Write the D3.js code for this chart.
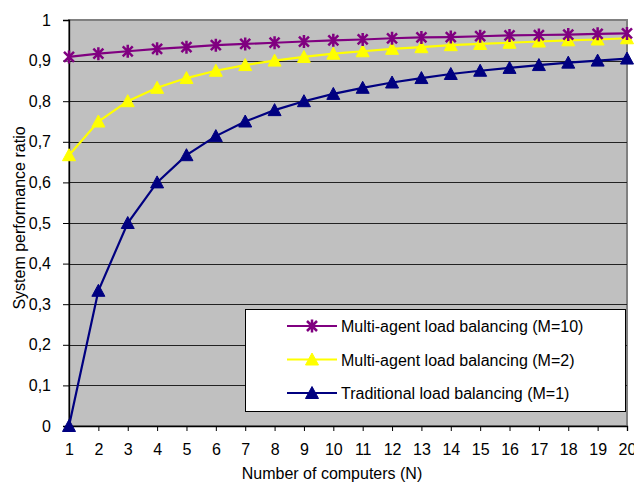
<!DOCTYPE html>
<html>
<head>
<meta charset="utf-8">
<script src="https://cdn.jsdelivr.net/npm/d3@7"></script>
<style>
  body { margin: 0; background: #fff; }
  text { font-family: "Liberation Sans", Arial, sans-serif; fill: #000; }
</style>
</head>
<body>
<svg width="634" height="484"></svg>
<script>
const width = 634
const height = 484

// number of computers (N)
const computers = [1,2,3,4,5,6,7,8,9,10,11,12,13,14,15,16,17,18,19,20]
// M = 10
const multiM10 = [0.909,0.917,0.923,0.929,0.933,0.938,0.941,0.944,0.947,0.950,0.952,0.955,0.957,0.958,0.960,0.962,0.963,0.964,0.966,0.967]
// M = 2
const multiM2 = [0.667,0.750,0.800,0.833,0.857,0.875,0.889,0.900,0.909,0.917,0.923,0.929,0.933,0.938,0.941,0.944,0.947,0.950,0.952,0.955]
// M = 1
const traditional = [0,0.333,0.500,0.600,0.667,0.714,0.750,0.778,0.800,0.818,0.833,0.846,0.857,0.867,0.875,0.882,0.889,0.895,0.900,0.905]
const yTicks = [0,0.1,0.2,0.3,0.4,0.5,0.6,0.7,0.8,0.9,1]

const series = [
  {name: "Multi-agent load balancing (M=10)", values: multiM10, color: "#800080", mark: "star"},
  {name: "Multi-agent load balancing (M=2)", values: multiM2, color: "#FFFF00", mark: "tri"},
  {name: "Traditional load balancing (M=1)", values: traditional, color: "#000080", mark: "tri"}
]

const plot = {left: 69, top: 20, right: 627, bottom: 426}
const svg = d3.select("svg")

const xScale = d3.scaleLinear().domain([1, 20]).range([plot.left, plot.right])
const yScale = d3.scaleLinear().domain([0, 1]).range([plot.bottom, plot.top])
const loc = d3.formatLocale({decimal: ",", thousands: ".", grouping: [3], currency: ["", ""]})
const fmt = d3.format("~g")
const comma = v => loc.format("~g")(v)

// plot background
svg.append("rect")
  .attr("x", plot.left).attr("y", plot.top)
  .attr("width", plot.right - plot.left).attr("height", plot.bottom - plot.top)
  .attr("fill", "#C0C0C0")
  .attr("stroke", "#808080").attr("stroke-width", 2)

// gridlines
svg.append("g").selectAll("line")
  .data(yTicks.slice(1, -1))
  .enter().append("line")
  .attr("x1", plot.left).attr("x2", plot.right)
  .attr("y1", d => Math.round(yScale(d)) + 0.5).attr("y2", d => Math.round(yScale(d)) + 0.5)
  .attr("stroke", "#222").attr("stroke-width", 1)

// axes
const xAxis = d3.axisBottom(xScale).tickValues(computers).tickSize(5).tickPadding(13).tickFormat(fmt)
const yAxis = d3.axisLeft(yScale).tickValues(yTicks).tickSize(6).tickPadding(12).tickFormat(comma)

const gx = svg.append("g").attr("transform", `translate(0,${plot.bottom})`).call(xAxis)
const gy = svg.append("g").attr("transform", `translate(${plot.left},0)`).call(yAxis)
;[gx, gy].forEach(g => {
  g.select(".domain").attr("stroke", "#000").attr("stroke-width", 1.3)
  g.selectAll(".tick line").attr("stroke", "#000")
  g.selectAll(".tick text").style("font-size", "16px").attr("fill", "#000")
})

// lines and markers
const line = d3.line().x((d, i) => xScale(computers[i])).y(d => yScale(d))
const triPath = "M0,-6.5L6.5,5.5L-6.5,5.5Z"
const starPath = "M-5,-5L5,5M-5,5L5,-5M0,-6.5L0,6.5"

function drawMark(g, mark, color) {
  if (mark === "tri") {
    g.append("path").attr("d", triPath).attr("fill", color).attr("stroke", color).attr("stroke-width", 1)
  } else {
    g.append("path").attr("d", starPath).attr("fill", "none").attr("stroke", color).attr("stroke-width", 2.5)
  }
}

series.slice().reverse().forEach(s => {
  svg.append("path")
    .datum(s.values)
    .attr("d", line)
    .attr("fill", "none")
    .attr("stroke", s.color)
    .attr("stroke-width", 2.2)
  svg.append("g").selectAll("g")
    .data(s.values)
    .enter().append("g")
    .attr("transform", (d, i) => `translate(${xScale(computers[i])},${yScale(d)})`)
    .each(function() { drawMark(d3.select(this), s.mark, s.color) })
})

// legend
const legend = svg.append("g").attr("transform", "translate(245,309)")
legend.append("rect")
  .attr("x", 0.5).attr("y", 0.5).attr("width", 380).attr("height", 102)
  .attr("fill", "#fff").attr("stroke", "#000").attr("stroke-width", 1)
series.forEach((s, i) => {
  const y = 17 + i * 33.5
  const row = legend.append("g").attr("transform", `translate(0,${y})`)
  row.append("line").attr("x1", 42).attr("x2", 92).attr("y1", 0).attr("y2", 0)
    .attr("stroke", s.color).attr("stroke-width", 2.2)
  drawMark(row.append("g").attr("transform", "translate(67,0)"), s.mark, s.color)
  row.append("text").attr("x", 96).attr("y", 6).style("font-size", "16px").text(s.name)
})

// axis titles
svg.append("text")
  .attr("x", 332).attr("y", 479)
  .attr("text-anchor", "middle").style("font-size", "16px")
  .text("Number of computers (N)")
svg.append("text")
  .attr("transform", "translate(25,218) rotate(-90)")
  .attr("text-anchor", "middle").style("font-size", "16px")
  .text("System performance ratio")
</script>
</body>
</html>
